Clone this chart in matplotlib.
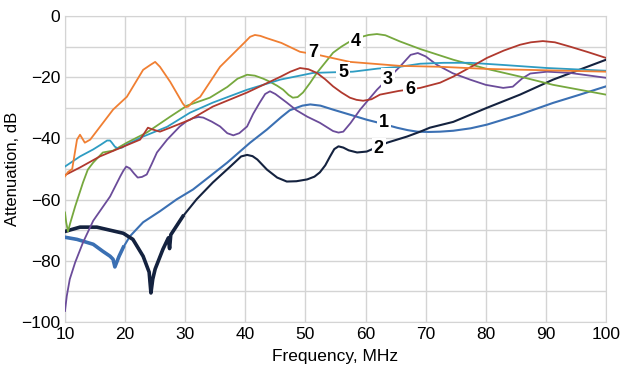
import matplotlib
matplotlib.use('Agg')
import matplotlib.pyplot as plt
import numpy as np

# curve 1 (blue)
f1 = [10, 12, 14.7, 16.3, 17.5, 18.0, 18.3, 19.0, 19.7, 20.8, 23, 25.8, 28.6, 31.3, 34.1, 37, 40.8, 43.6, 46,
      47.4, 49.5, 50.8, 52.5, 54.6, 57.5, 60.2, 63, 65.2, 67, 68.6, 70.5, 72.4, 74.6, 77.5, 80.2, 85.7, 91.2, 95.5, 100]
a1 = [-72.3, -73, -74.6, -76.9, -78.5, -79.5, -82, -78.5, -75.6, -72, -67.4, -63.8, -59.9, -56.7, -52.4, -47.9, -41.4, -37.1, -33,
      -30.8, -29.3, -28.9, -29.3, -30.6, -32.3, -33.9, -35.3, -36.5, -37.3, -37.8, -37.9, -37.8, -37.5, -36.7, -35.5, -32.2, -28.4, -25.8, -23]

# curve 2 (navy)
f2 = [10, 12.5, 15.3, 17.5, 19.7, 21.3, 23, 24, 24.3, 24.6, 25, 26.3, 27.2, 27.4, 27.6, 29.6, 31.9, 34.6, 37.5,
      39.3, 40.3, 41.2, 42, 43.6, 45.3, 46.9, 48.5, 50.3, 51.5, 52.4, 53.3, 54.1, 54.8, 55.5, 56.3, 57.2, 58.6, 60.2,
      63.6, 66.9, 69.1, 70.7, 74.6, 80.2, 85.7, 91.2, 100]
a2 = [-70.4, -69, -69, -70, -71, -73, -78.5, -83.7, -90.5, -86, -82.7, -76.2, -72.5, -76, -71.5, -65.5, -59.9, -54.4, -49.2,
      -45.9, -45.4, -45.8, -46.9, -50.2, -52.8, -54.1, -54, -53.4, -52.5, -51.1, -48.8, -45.9, -43.5, -42.6, -43, -43.9, -44.6, -44.3,
      -41.4, -39.4, -37.8, -36.5, -34.6, -30, -25.7, -20.8, -14.3]

# curve 3 (purple)
f3 = [10, 10.3, 10.8, 11.7, 13, 14.7, 17.5, 19.2, 19.7, 20.2, 20.8, 21.5, 22.1, 22.8, 23.6, 24.4, 25.3, 27, 29.1,
      30.3, 31.3, 32.2, 33, 34.4, 35.8, 37, 38, 39, 40.3, 41.3, 42.4, 43.3, 44.1, 45, 46.9, 48.5, 50.3, 52.4,
      54.6, 55.5, 56.3, 57.5, 59.1, 61.9, 65.7, 67.5, 68.7, 70, 71.9, 74.5, 77.4, 80, 82.9, 84.5, 86, 87.4,
      90.2, 94, 100]
a3 = [-96.4, -91.5, -86, -80.5, -74, -66.9, -59, -52.4, -50.6, -49.2, -49.8, -51.5, -52.8, -52.6, -51.8, -48.5, -44.6, -40.4, -36.1,
      -34.3, -33.4, -33.0, -33.2, -34.5, -36.1, -38.3, -39, -38.3, -36.1, -32, -28.3, -25.5, -24.6, -25.5, -28.3, -30.8, -32.9, -34.9,
      -37.6, -38.1, -37.8, -35, -30.6, -24.1, -16.6, -12.7, -12.1, -13.2, -16, -18.7, -20.8, -22.5, -23.5, -23.1, -20.5, -18.8,
      -18.2, -18.6, -20.2]

# curve 4 (green)
f4 = [10, 10.2, 10.5, 10.9, 11.7, 13, 13.8, 14.7, 16.3, 18, 20.3, 23.6, 27.5, 30.3, 34.1, 37, 38.7, 40.3, 41.6,
      43, 44.1, 45.3, 46.3, 47.2, 47.9, 48.7, 49.6, 50.8, 51.9, 53.3, 54.6, 56, 57.5, 59, 60.5, 61.9, 63.3, 65.7,
      69.1, 74.6, 80.2, 85.7, 91.2, 100]
a4 = [-64.2, -67.4, -70.4, -67.5, -62.2, -54.4, -50.2, -47.9, -44.6, -44, -41.4, -38.1, -32.9, -29.3, -26.7, -23.2, -20.5, -19.2, -19.5,
      -20.5, -21.5, -22.8, -24.1, -25.8, -26.7, -26.5, -25, -21.8, -18.6, -15.2, -12, -10, -8.2, -7, -6.2, -5.9, -6.3, -8.3,
      -10.8, -14.3, -17.3, -19.8, -22.5, -25.7]

# curve 5 (teal)
f5 = [10, 12.5, 14.7, 16, 17, 17.5, 17.8, 18.3, 18.8, 19.5, 20.3, 23, 27, 30.8, 34.6, 40.3, 45.8, 51.3,
      57.9, 62, 65.7, 69.1, 73, 77.4, 82.9, 90.2, 100]
a5 = [-49.2, -45.9, -43.6, -42, -40.7, -40.7, -41.4, -42.7, -43.3, -43, -42, -39.4, -36.2, -31.6, -28.3, -24.1, -20.8, -18.6,
      -18.2, -17.2, -16.6, -15.6, -15.3, -15.3, -16, -17, -17.9]

# curve 6 (dark red)
f6 = [10, 12.5, 15.8, 19.7, 22.5, 23.3, 23.8, 24.6, 25.8, 27.5, 30.8, 34.6, 40.3, 45.8, 47.5, 49.1, 50.5, 51.9,
      53.3, 54.6, 56, 57.4, 58.5, 59.6, 61, 62.4, 65.5, 69.1, 72.4, 74.6, 77.5, 80.2, 83, 85.7, 87.5, 89.5,
      91.5, 94, 97, 100]
a6 = [-52, -49.5, -45.9, -42.7, -40.4, -38, -36.5, -37.1, -37.8, -36.5, -33.9, -29.6, -25, -19.9, -18.2, -17, -17.4, -18.6,
      -20.7, -23, -25, -26.7, -27.4, -27.7, -27.2, -25.7, -24.5, -23.5, -21.8, -19.8, -16.7, -13.7, -11.3, -9.4, -8.6, -8.2,
      -8.6, -10, -11.8, -13.7]

# curve 7 (orange)
f7 = [10, 10.5, 11.2, 12, 12.5, 13.3, 14.2, 18, 20.3, 23, 24.2, 25, 25.8, 27.5, 29.6, 30.1, 30.5, 31.3, 32.5,
      35.8, 39.8, 40.8, 41.6, 42.5, 43.5, 46, 49.1, 52.1, 57.4, 65.7, 72.4, 80.2, 100]
a7 = [-52.4, -51, -50, -40.4, -38.8, -41.4, -40.4, -30.6, -26.4, -17.6, -16, -15, -16.6, -21.5, -28.6, -29.8, -29.6, -28, -26.4,
      -16.6, -8.8, -6.8, -6.2, -6.5, -7.2, -8.8, -11.7, -12.7, -15, -16.3, -16.6, -17.3, -18.2]

labels = ['1', '2', '3', '4', '5', '6', '7']
label_pos = [(63.1, -34.9), (62.2, -43.2), (63.7, -20.6), (58.4, -8.4), (56.3, -18.6), (67.4, -24.1), (51.3, -12)]
colors = ['#3b70b3', '#14223f', '#6b4c9a', '#76a83e', '#2e9cc2', '#b0392e', '#f07f32']
widths = [1.5, 1.5, 1.3, 1.3, 1.3, 1.3, 1.3]
noisy_upto = [20, 30, 0, 0, 0, 0, 0]   # measured traces are noisy at low freq -> drawn thicker there

xs = [f1, f2, f3, f4, f5, f6, f7]
ys = [a1, a2, a3, a4, a5, a6, a7]

fig = plt.figure(figsize=(6.29, 3.65), dpi=100)
ax = fig.add_axes([0.1033, 0.1178, 0.8601, 0.8384])

for i in range(7):
    ax.plot(xs[i], ys[i], color=colors[i], lw=widths[i], zorder=3, solid_joinstyle='round')
    if noisy_upto[i]:
        k = sum(1 for v in xs[i] if v <= noisy_upto[i])
        ax.plot(xs[i][:k], ys[i][:k], color=colors[i], lw=2.6, zorder=3, solid_joinstyle='round')
    ax.text(label_pos[i][0], label_pos[i][1], labels[i], fontsize=13, fontweight='bold',
            ha='center', va='center', zorder=5, family='Liberation Sans',
            bbox=dict(boxstyle='square,pad=0.12', fc='white', ec='none'))

ax.set_xlim(10, 100)
ax.set_ylim(-100, 0)
ax.set_xticks(np.arange(10, 101, 10))
ax.set_yticks(np.arange(-100, 1, 20))
ax.set_yticks(np.arange(-90, 0, 20), minor=True)
ax.grid(True, which='both', color='#d4d4d4', lw=1.0, zorder=0)
ax.tick_params(which='both', length=0, labelsize=12.5, pad=3.5)
for lab in ax.get_xticklabels() + ax.get_yticklabels():
    lab.set_family('Liberation Sans')
for s in ax.spines.values():
    s.set_color('#d4d4d4')
ax.set_xlabel('Frequency, MHz', fontsize=12.5, family='Liberation Sans', labelpad=5)
ax.set_ylabel('Attenuation, dB', fontsize=12, family='Liberation Sans', labelpad=1)

fig.savefig('out.png', dpi=100)
